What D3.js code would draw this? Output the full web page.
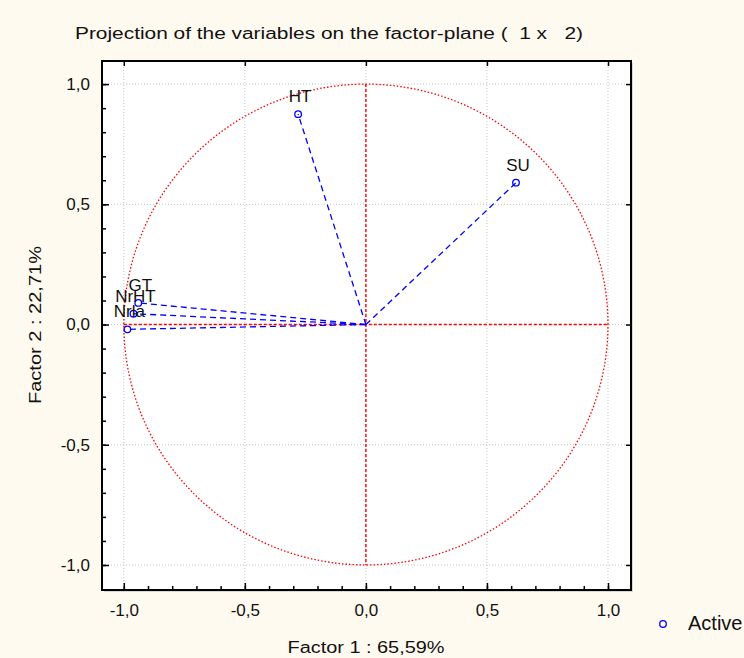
<!DOCTYPE html>
<html>
<head>
<meta charset="utf-8">
<script src="https://cdn.jsdelivr.net/npm/d3@7"></script>
<style>
  body { margin: 0; background: #fffaef; }
  svg { display: block; font-family: "Liberation Sans", Arial, sans-serif; }
  svg text { white-space: pre; }
</style>
</head>
<body>
<div id="chart"></div>
<script>
// Variable coordinates on factor 1 and factor 2
const varNames = ['HT', 'SU', 'GT', 'NrHT', 'Nrla'];
const factor1 = [-0.28, 0.62, -0.94, -0.96, -0.985];
const factor2 = [0.875, 0.59, 0.09, 0.045, -0.02];

const majorTicks = [-1.0, -0.5, 0.0, 0.5, 1.0];
const minorTicks = d3.range(-10, 11).map(d => d / 10);

const titleText = 'Projection of the variables on the factor-plane (  1 x   2)';
const xTitle = 'Factor 1 : 65,59%';
const yTitle = 'Factor 2 : 22,71%';
const legendLabel = 'Active';

const width = 744;
const height = 658;

const svg = d3.select('#chart').append('svg')
    .attr('width', width)
    .attr('height', height);

const x = d3.scaleLinear().domain([-1.09, 1.095]).range([102, 631]);
const y = d3.scaleLinear().domain([-1.104, 1.096]).range([590, 61]);

const fmt = d => d.toFixed(1).replace('.', ',');

const plotBottom = y.range()[0], plotTop = y.range()[1], plotLeft = x.range()[0], plotRight = x.range()[1];

// plot background + shadow
svg.append('rect')
    .attr('x', plotLeft + 2).attr('y', plotTop + 2)
    .attr('width', plotRight - plotLeft).attr('height', plotBottom - plotTop)
    .attr('fill', '#d8d8d8');
svg.append('rect')
    .attr('x', plotLeft).attr('y', plotTop)
    .attr('width', plotRight - plotLeft).attr('height', plotBottom - plotTop)
    .attr('fill', '#fff');

// grid
const grid = svg.append('g')
    .attr('stroke', '#c4c4c4')
    .attr('stroke-width', 1)
    .attr('stroke-dasharray', '1,2');
majorTicks.forEach(t => {
    grid.append('line').attr('x1', x(t)).attr('x2', x(t)).attr('y1', plotTop).attr('y2', plotBottom);
    grid.append('line').attr('y1', y(t)).attr('y2', y(t)).attr('x1', plotLeft).attr('x2', plotRight);
});

// unit circle
const circle = d3.range(0, 361, 2).map(a => [Math.cos(a * Math.PI / 180), Math.sin(a * Math.PI / 180)]);
svg.append('path')
    .attr('d', d3.line().x(d => x(d[0])).y(d => y(d[1]))(circle))
    .attr('fill', 'none')
    .attr('stroke', '#ff0000')
    .attr('stroke-width', 1.3)
    .attr('stroke-dasharray', '1.5,2');

// red axes through origin
svg.append('line')
    .attr('x1', x(0)).attr('x2', x(0)).attr('y1', y(1)).attr('y2', y(-1))
    .attr('stroke', '#ff0000').attr('stroke-width', 1.4).attr('stroke-dasharray', '3,2');
svg.append('line')
    .attr('y1', y(0)).attr('y2', y(0)).attr('x1', x(-1)).attr('x2', x(1))
    .attr('stroke', '#ff0000').attr('stroke-width', 1.4).attr('stroke-dasharray', '3,2');

// vectors
const vars = varNames.map((n, i) => ({ name: n, f1: factor1[i], f2: factor2[i] }));

svg.append('g').selectAll('line')
    .data(vars)
    .enter().append('line')
    .attr('x1', x(0)).attr('y1', y(0))
    .attr('x2', d => x(d.f1)).attr('y2', d => y(d.f2))
    .attr('stroke', '#0000ff')
    .attr('stroke-width', 1.3)
    .attr('stroke-dasharray', '6,4');

svg.append('g').selectAll('circle')
    .data(vars)
    .enter().append('circle')
    .attr('cx', d => x(d.f1)).attr('cy', d => y(d.f2))
    .attr('r', 3.3)
    .attr('fill', 'none')
    .attr('stroke', '#0000ff')
    .attr('stroke-width', 1.3);

svg.append('g').selectAll('text')
    .data(vars)
    .enter().append('text')
    .attr('x', d => x(d.f1) + 2).attr('y', d => y(d.f2) - 12)
    .attr('text-anchor', 'middle')
    .attr('font-size', 17)
    .attr('fill', '#111')
    .text(d => d.name);

// axes (ticks inward on all four sides)
function addAxis(axis, transform, labels) {
    const g = svg.append('g').attr('transform', transform).call(axis);
    g.select('.domain').remove();
    g.selectAll('line').attr('stroke', '#000').attr('stroke-width', 1.5);
    if (!labels) g.selectAll('text').remove();
    else g.selectAll('text').attr('font-size', 17).attr('fill', '#111')
        .attr('font-family', '"Liberation Sans", Arial, sans-serif');
    return g;
}

addAxis(d3.axisBottom(x).tickValues(minorTicks).tickSize(-4).tickFormat(''), `translate(0,${plotBottom})`, false);
addAxis(d3.axisBottom(x).tickValues(majorTicks).tickSize(-7).tickPadding(14).tickFormat(fmt), `translate(0,${plotBottom})`, true);
addAxis(d3.axisTop(x).tickValues(majorTicks).tickSize(-5).tickFormat(''), `translate(0,${plotTop})`, false);
addAxis(d3.axisLeft(y).tickValues(minorTicks).tickSize(-4).tickFormat(''), `translate(${plotLeft},0)`, false);
addAxis(d3.axisLeft(y).tickValues(majorTicks).tickSize(-7).tickPadding(12).tickFormat(fmt), `translate(${plotLeft},0)`, true);
addAxis(d3.axisRight(y).tickValues(majorTicks).tickSize(-5).tickFormat(''), `translate(${plotRight},0)`, false);

// frame
svg.append('rect')
    .attr('x', plotLeft).attr('y', plotTop)
    .attr('width', plotRight - plotLeft).attr('height', plotBottom - plotTop)
    .attr('fill', 'none')
    .attr('stroke', '#000')
    .attr('stroke-width', 2);

// titles
svg.append('text')
    .attr('x', 75).attr('y', 39)
    .attr('font-size', 16)
    .attr('fill', '#111')
    .attr('textLength', 508)
    .attr('lengthAdjust', 'spacingAndGlyphs')
    .text(titleText);

svg.append('text')
    .attr('x', 366).attr('y', 653)
    .attr('text-anchor', 'middle')
    .attr('font-size', 16)
    .attr('fill', '#111')
    .attr('textLength', 157)
    .attr('lengthAdjust', 'spacingAndGlyphs')
    .text(xTitle);

svg.append('text')
    .attr('transform', `translate(41,325) rotate(-90)`)
    .attr('text-anchor', 'middle')
    .attr('font-size', 16)
    .attr('fill', '#111')
    .attr('textLength', 158)
    .attr('lengthAdjust', 'spacingAndGlyphs')
    .text(yTitle);

// legend
svg.append('circle')
    .attr('cx', 663).attr('cy', 624).attr('r', 3.3)
    .attr('fill', 'none').attr('stroke', '#0000ff').attr('stroke-width', 1.3);
svg.append('text')
    .attr('x', 688).attr('y', 630)
    .attr('font-size', 20)
    .attr('fill', '#111')
    .text(legendLabel);
</script>
</body>
</html>
